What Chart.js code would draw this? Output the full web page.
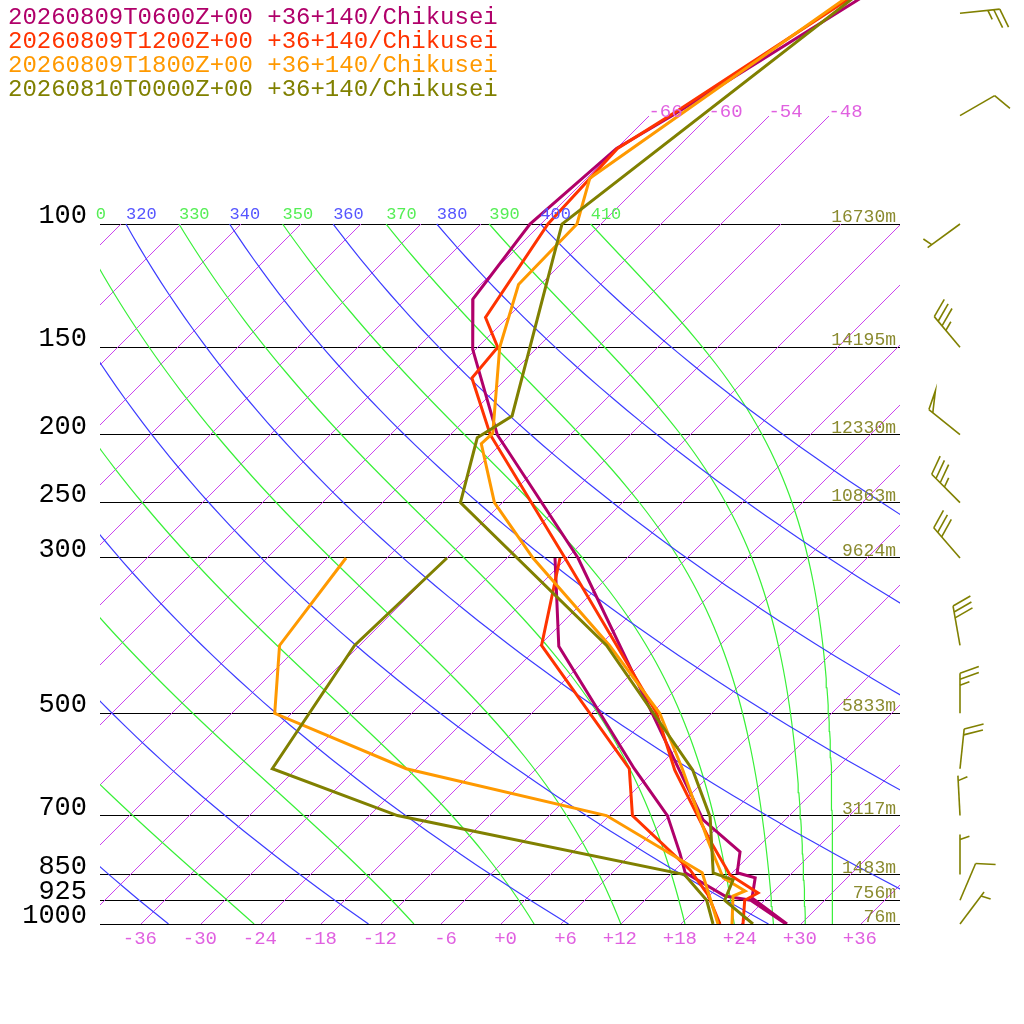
<!DOCTYPE html>
<html>
<head>
<meta charset="utf-8">
<script src="https://cdn.jsdelivr.net/npm/chart.js@4.4.1/dist/chart.umd.min.js"></script>
<style>
html,body{margin:0;padding:0;background:#fff}
canvas{display:block}
</style>
</head>
<body>
<canvas id="skewt" width="1024" height="1024"></canvas>
<script>
// runs shown in the legend
var runLabels = ['20260809T0600Z+00 +36+140/Chikusei',
                 '20260809T1200Z+00 +36+140/Chikusei',
                 '20260809T1800Z+00 +36+140/Chikusei',
                 '20260810T0000Z+00 +36+140/Chikusei'];
var runColors = ['#b0006a', '#ff3300', '#ff9900', '#808000'];

// temperature (hPa, degC)
var tP0600 = [45, 70, 78, 100, 128, 151, 200, 300, 710, 789, 845, 859, 918, 1000];
var t0600  = [-55.5, -63.6, -65.9, -67.0, -65.2, -60.2, -49.2, -28.8, 9.9, 16.8, 18.6, 20.9, 22.6, 28.7];
var dP0600 = [300, 401, 600, 700, 792, 845, 912, 925, 1000];
var d0600  = [-31.1, -21.9, -2.1, 5.9, 10.9, 13.4, 19.7, 22.7, 28.6];

var tP1200 = [45, 69, 78, 100, 136, 150, 166, 200, 300, 500, 603, 759, 851, 903, 925, 1000];
var t1200  = [-56.7, -63.6, -65.8, -65.2, -62.1, -57.9, -57.4, -49.9, -30.1, -5.4, 2.1, 12.6, 18.1, 22.7, 22.1, 24.3];
var dP1200 = [300, 400, 600, 700, 837, 909, 1000];
var d1200  = [-30.6, -23.7, -2.6, 2.4, 13.6, 17.9, 22.0];

var tP1800 = [45, 86, 100, 122, 150, 199, 206, 250, 300, 400, 500, 600, 759, 805, 859, 897, 912, 1000];
var t1800  = [-57.3, -65.6, -62.3, -62.1, -57.7, -49.8, -49.9, -42.7, -33.3, -16.9, -5.1, 2.7, 12.4, 14.9, 17.7, 21.2, 20.5, 23.2];
var dP1800 = [300, 400, 500, 600, 700, 845, 925, 1000];
var d1800  = [-52.0, -49.9, -43.6, -24.9, -0.2, 15.1, 18.7, 21.8];

var tP0000 = [45, 100, 188, 202, 250, 400, 603, 703, 845, 865, 925, 1000];
var t0000  = [-56.8, -63.8, -49.6, -50.9, -46.1, -17.2, 3.9, 10.3, 16.2, 18.9, 20.1, 25.3];
var dP0000 = [300, 400, 600, 700, 850, 925, 1000];
var d0000  = [-41.9, -42.4, -38.3, -21.1, 13.5, 18.3, 21.3];

// wind of the last run (direction deg, speed kt)
var windP   = [50, 70, 100, 150, 200, 250, 300, 400, 500, 600, 700, 850, 925, 1000];
var windDir = [84, 60, 234, 320, 309, 315, 319, 350, 360, 6, 357, 360, 23, 37];
var windKt  = [25, 10, 5, 35, 50, 35, 30, 30, 25, 20, 5, 5, 10, 5];

// standard levels and their heights
var pTicks   = [100, 150, 200, 250, 300, 500, 700, 850, 925, 1000];
var hgtLabel = ['16730m', '14195m', '12330m', '10863m', '9624m', '5833m', '3117m', '1483m', '756m', '76m'];
var tTicks   = [-36, -30, -24, -18, -12, -6, 0, 6, 12, 18, 24, 30, 36];

// background lines
var isoT = [];
for (var t = -108; t <= 36; t += 6) isoT.push(t);
var dryTheta = [200, 220, 240, 260, 280, 300, 320, 340, 360, 380, 400];
var moistThetaE = [250, 270, 290, 310, 330, 350, 370, 390, 410];

var SKEW = 30.4;              // degC per ln(p) unit -> 45 deg isotherms
var P_TOP = 1000 * Math.exp(-924 / 304);

function skx(tc, p) { return tc + SKEW * Math.log(1000 / p); }
function prof(ps, ts) {
  return ps.map(function (p, i) { return {x: skx(ts[i], p), y: p}; });
}
function esat(tc) { return 6.112 * Math.exp(17.67 * tc / (tc + 243.5)); }
function thetaE(tk, p) {
  var e = esat(tk - 273.15);
  if (e > p * 0.5) return 1e6;
  var r = 622 * e / (p - e);
  return tk * Math.pow(1000 / p, 0.2854 * (1 - 0.00028 * r)) *
         Math.exp((3.376 / tk - 0.00254) * r * (1 + 0.00081 * r));
}
function tFromThetaE(th, p) {
  var lo = 120, hi = 340;
  for (var k = 0; k < 60; k++) {
    var m = (lo + hi) / 2;
    if (thetaE(m, p) > th) hi = m; else lo = m;
  }
  return (lo + hi) / 2 - 273.15;
}
function tFromTheta(th, p) { return th * Math.pow(p / 1000, 0.2857) - 273.15; }

var datasets = [];
function addLine(data, color, width, order) {
  datasets.push({data: data, borderColor: color, borderWidth: width, pointRadius: 0,
                 showLine: true, fill: false, tension: 0, order: order, clip: 0});
}

dryTheta.forEach(function (th) {
  var pts = [];
  for (var i = 0; i <= 60; i++) { var p = 1000 * Math.pow(0.1, i / 60); pts.push({x: skx(tFromTheta(th, p), p), y: p}); }
  addLine(pts, '#3c3cff', 1.2, 10);
});
moistThetaE.forEach(function (th) {
  var pts = [];
  for (var i = 0; i <= 80; i++) { var p = 1000 * Math.pow(0.1, i / 80); pts.push({x: skx(tFromThetaE(th, p), p), y: p}); }
  addLine(pts, '#38f038', 1.2, 10);
});

var runs = [[tP0600, t0600, dP0600, d0600], [tP1200, t1200, dP1200, d1200],
            [tP1800, t1800, dP1800, d1800], [tP0000, t0000, dP0000, d0000]];
runs.forEach(function (r, i) {
  addLine(prof(r[0], r[1]), runColors[i], 3, 4 - i);
  addLine(prof(r[2], r[3]), runColors[i], 3, 4 - i);
});

// one-pixel, non antialiased line between two canvas points
function crispLine(ctx, x0, y0, x1, y1) {
  var n = Math.max(1, Math.round(Math.max(Math.abs(x1 - x0), Math.abs(y1 - y0))));
  for (var k = 0; k <= n; k++) {
    ctx.fillRect(Math.round(x0 + (x1 - x0) * k / n), Math.round(y0 + (y1 - y0) * k / n), 1, 1);
  }
}

// isotherms under the profiles, through the chart scales
var isothermPlugin = {
  id: 'isotherms',
  beforeDatasetsDraw: function (chart) {
    var ctx = chart.ctx, xs = chart.scales.x, ys = chart.scales.y, ca = chart.chartArea;
    ctx.save();
    ctx.beginPath(); ctx.rect(ca.left, ca.top, ca.right - ca.left, ca.bottom - ca.top); ctx.clip();
    ctx.fillStyle = '#cc44ee';
    isoT.forEach(function (t) {
      var top = (t >= -66 && t <= -48) ? 70 : 100;
      crispLine(ctx, xs.getPixelForValue(skx(t, 1000)), ys.getPixelForValue(1000),
                     xs.getPixelForValue(skx(t, top)), ys.getPixelForValue(top));
    });
    ctx.restore();
  }
};

function drawBarb(ctx, x0, y0, dir, kt) {
  var L = 40, rad = dir * Math.PI / 180;
  var ux = Math.sin(rad), uy = -Math.cos(rad);
  var tx = x0 + ux * L, ty = y0 + uy * L;
  var a = 70 * Math.PI / 180;
  var fx = ux * Math.cos(a) - uy * Math.sin(a), fy = ux * Math.sin(a) + uy * Math.cos(a);
  ctx.beginPath(); ctx.moveTo(x0, y0); ctx.lineTo(tx, ty); ctx.stroke();
  var n50 = Math.floor(kt / 50), rest = kt - 50 * n50;
  var n10 = Math.floor(rest / 10), n5 = Math.round((rest - 10 * n10) / 5);
  var pos = 0, i, bx, by;
  for (i = 0; i < n50; i++) {
    bx = tx - ux * pos; by = ty - uy * pos;
    ctx.beginPath(); ctx.moveTo(bx, by); ctx.lineTo(bx + fx * 20, by + fy * 20);
    ctx.lineTo(bx - ux * 5, by - uy * 5); ctx.stroke();
    pos += 8;
  }
  for (i = 0; i < n10; i++) {
    bx = tx - ux * pos; by = ty - uy * pos;
    ctx.beginPath(); ctx.moveTo(bx, by); ctx.lineTo(bx + fx * 20, by + fy * 20); ctx.stroke();
    pos += 6;
  }
  if (n5) {
    if (pos === 0) pos = 5;
    bx = tx - ux * pos; by = ty - uy * pos;
    ctx.beginPath(); ctx.moveTo(bx, by); ctx.lineTo(bx + fx * 10, by + fy * 10); ctx.stroke();
  }
}

var textPlugin = {
  id: 'skewtText',
  afterDraw: function (chart) {
    var ctx = chart.ctx, xs = chart.scales.x, ys = chart.scales.y, ca = chart.chartArea;
    ctx.save();
    // legend
    ctx.font = '24px "Liberation Mono"';
    ctx.textAlign = 'left'; ctx.textBaseline = 'alphabetic';
    runLabels.forEach(function (s, i) { ctx.fillStyle = runColors[i]; ctx.fillText(s, 8, 24 + 24 * i); });
    // heights of standard levels
    ctx.font = '18px "Liberation Mono"'; ctx.fillStyle = '#8a8a2e'; ctx.textAlign = 'right';
    pTicks.forEach(function (p, i) { ctx.fillText(hgtLabel[i], 896, ys.getPixelForValue(p) - 2); });
    // adiabat labels at 100 hPa
    ctx.save();
    ctx.beginPath(); ctx.rect(ca.left - 4, 0, ca.right - ca.left + 4, ca.bottom); ctx.clip();
    ctx.font = '17px "Liberation Mono"'; ctx.textAlign = 'left';
    var y100 = ys.getPixelForValue(100) - 5;
    dryTheta.forEach(function (th) {
      ctx.fillStyle = '#5555ff'; ctx.fillText(String(th), xs.getPixelForValue(skx(tFromTheta(th, 100), 100)), y100);
    });
    moistThetaE.forEach(function (th) {
      ctx.fillStyle = '#55ee55'; ctx.fillText(String(th), xs.getPixelForValue(skx(tFromThetaE(th, 100), 100)), y100);
    });
    // isotherm labels at 70 hPa
    ctx.font = '19px "Liberation Mono"'; ctx.fillStyle = '#e060e0';
    isoT.forEach(function (t) {
      if (t >= -66 && t <= -48) ctx.fillText(String(t), xs.getPixelForValue(skx(t, 70)), ys.getPixelForValue(70) + 1);
    });
    ctx.restore();
    // wind barbs
    ctx.strokeStyle = '#808000'; ctx.lineWidth = 1.6; ctx.lineJoin = 'miter';
    windP.forEach(function (p, i) { drawBarb(ctx, ca.right + 60, ys.getPixelForValue(p), windDir[i], windKt[i]); });
    ctx.restore();
  }
};

new Chart(document.getElementById('skewt'), {
  type: 'scatter',
  data: {datasets: datasets},
  options: {
    responsive: false, maintainAspectRatio: false, devicePixelRatio: 1,
    animation: false, events: [],
    layout: {padding: {left: 0, right: 124, top: 0, bottom: 0}, autoPadding: false},
    plugins: {legend: {display: false}, tooltip: {enabled: false}},
    scales: {
      x: {
        type: 'linear', min: -40, max: 40, bounds: 'data',
        grid: {display: false, drawTicks: false}, border: {display: false},
        afterBuildTicks: function (s) { s.ticks = tTicks.map(function (v) { return {value: v}; }); },
        afterFit: function (s) { s.height = 100; s.paddingLeft = 0; s.paddingRight = 0; },
        ticks: {
          autoSkip: false, maxRotation: 0, minRotation: 0, align: 'end', labelOffset: 17, padding: 4,
          color: '#e060e0', font: {family: 'Liberation Mono', size: 19},
          callback: function (v) { return v > 0 ? '+' + v : (v === 0 ? '+0' : String(v)); }
        }
      },
      y: {
        type: 'logarithmic', reverse: true, min: P_TOP, max: 1000, bounds: 'data',
        grid: {color: '#000', lineWidth: 1, drawTicks: false}, border: {display: false},
        afterBuildTicks: function (s) { s.ticks = pTicks.map(function (v) { return {value: v}; }); },
        afterFit: function (s) { s.width = 100; s.paddingTop = 0; s.paddingBottom = 0; },
        ticks: {
          autoSkip: false, padding: 13, labelOffset: -8, color: '#000',
          font: {family: 'Liberation Mono', size: 27},
          callback: function (v) { return String(v); }
        }
      }
    }
  },
  plugins: [isothermPlugin, textPlugin]
});
</script>
</body>
</html>
